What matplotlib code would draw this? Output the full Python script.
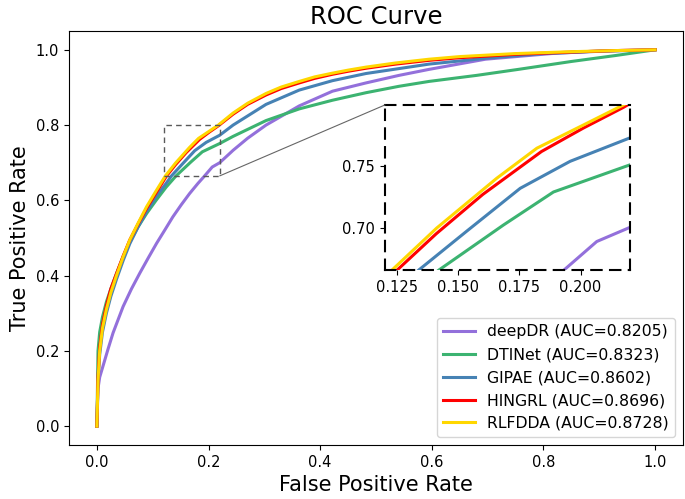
import matplotlib
matplotlib.use("Agg")
import matplotlib.pyplot as plt
from matplotlib.patches import Rectangle, ConnectionPatch

# ---- data ----
labels = ["deepDR (AUC=0.8205)", "DTINet (AUC=0.8323)", "GIPAE (AUC=0.8602)",
          "HINGRL (AUC=0.8696)", "RLFDDA (AUC=0.8728)"]
colors = ["mediumpurple", "mediumseagreen", "steelblue", "red", "gold"]

fpr_deepdr = [0, 0.001, 0.002, 0.005, 0.011, 0.02, 0.029, 0.047, 0.062, 0.077, 0.092, 0.107,
              0.122, 0.136, 0.151, 0.166, 0.181, 0.193, 0.2066, 0.22, 0.244, 0.27, 0.303,
              0.3625, 0.422, 0.482, 0.541, 0.595, 0.696, 0.814, 0.9, 1.0]
tpr_deepdr = [0, 0.05, 0.10, 0.13, 0.16, 0.205, 0.248, 0.318, 0.365, 0.407, 0.447, 0.486,
              0.522, 0.556, 0.588, 0.618, 0.645, 0.665, 0.6886, 0.70, 0.733, 0.765, 0.80,
              0.851, 0.89, 0.912, 0.932, 0.948, 0.975, 0.99, 0.997, 1.0]

fpr_dtinet = [0, 0.001, 0.002, 0.005, 0.010, 0.017, 0.025, 0.035, 0.047, 0.059, 0.074, 0.089,
              0.106, 0.124, 0.1418, 0.1684, 0.1889, 0.22, 0.244, 0.303, 0.3625, 0.422, 0.482,
              0.541, 0.595, 0.68, 0.755, 0.85, 0.93, 1.0]
tpr_dtinet = [0, 0.10, 0.20, 0.25, 0.29, 0.33, 0.365, 0.405, 0.45, 0.49, 0.53, 0.565,
              0.60, 0.635, 0.665, 0.702, 0.729, 0.751, 0.77, 0.812, 0.843, 0.866, 0.886,
              0.903, 0.916, 0.932, 0.948, 0.969, 0.985, 1.0]

fpr_gipae = [0, 0.002, 0.005, 0.010, 0.017, 0.025, 0.035, 0.047, 0.059, 0.074, 0.089, 0.106,
             0.124, 0.1336, 0.1534, 0.1753, 0.1957, 0.22, 0.244, 0.303, 0.3625, 0.422, 0.482,
             0.595, 0.70, 0.80, 0.90, 1.0]
tpr_gipae = [0, 0.12, 0.19, 0.25, 0.30, 0.345, 0.39, 0.44, 0.485, 0.53, 0.57, 0.61,
             0.645, 0.665, 0.697, 0.732, 0.754, 0.773, 0.80, 0.855, 0.893, 0.918, 0.937,
             0.962, 0.978, 0.99, 0.996, 1.0]

fpr_hingrl = [0, 0.002, 0.005, 0.010, 0.017, 0.025, 0.035, 0.047, 0.059, 0.074, 0.089, 0.106,
              0.1248, 0.141, 0.160, 0.184, 0.201, 0.2175, 0.244, 0.27, 0.303, 0.33, 0.3625,
              0.39, 0.422, 0.45, 0.482, 0.535, 0.595, 0.65, 0.75, 0.85, 0.93, 1.0]
tpr_hingrl = [0, 0.13, 0.21, 0.27, 0.32, 0.365, 0.405, 0.452, 0.495, 0.538, 0.579, 0.62,
              0.665, 0.695, 0.727, 0.762, 0.781, 0.798, 0.829, 0.855, 0.880, 0.897, 0.912,
              0.924, 0.935, 0.943, 0.951, 0.962, 0.972, 0.979, 0.988, 0.994, 0.998, 1.0]

fpr_rlfdda = [0, 0.002, 0.005, 0.010, 0.017, 0.025, 0.035, 0.047, 0.059, 0.074, 0.089, 0.106,
              0.1227, 0.1411, 0.1657, 0.1821, 0.2012, 0.2175, 0.244, 0.27, 0.303, 0.33, 0.3625,
              0.39, 0.422, 0.45, 0.482, 0.535, 0.595, 0.65, 0.75, 0.85, 0.93, 1.0]
tpr_rlfdda = [0, 0.12, 0.20, 0.26, 0.31, 0.355, 0.40, 0.45, 0.495, 0.54, 0.583, 0.625,
              0.665, 0.6995, 0.7402, 0.7647, 0.7837, 0.80, 0.832, 0.858, 0.884, 0.901, 0.916,
              0.928, 0.938, 0.946, 0.954, 0.965, 0.975, 0.982, 0.99, 0.995, 0.998, 1.0]

series = [(fpr_deepdr, tpr_deepdr), (fpr_dtinet, tpr_dtinet), (fpr_gipae, tpr_gipae),
          (fpr_hingrl, tpr_hingrl), (fpr_rlfdda, tpr_rlfdda)]

main_ticks = [0.0, 0.2, 0.4, 0.6, 0.8, 1.0]
zoom_xlim = (0.12, 0.22)
zoom_ylim = (0.665, 0.80)
zoom_xticks = [0.125, 0.150, 0.175, 0.200]
zoom_yticks = [0.70, 0.75]

# ---- figure ----
fig = plt.figure(figsize=(6.85, 4.99), dpi=100)
ax = fig.add_axes([0.1007, 0.1082, 0.8964, 0.8297])

for (x, y), c, lab in zip(series, colors, labels):
    ax.plot(x, y, color=c, lw=2.2, label=lab)

ax.set_xticks(main_ticks)
ax.set_yticks(main_ticks)
ax.tick_params(labelsize=10.5)
ax.set_xlabel("False Positive Rate", fontsize=15)
ax.set_ylabel("True Positive Rate", fontsize=15)
ax.set_title("ROC Curve", fontsize=17.5, pad=5)
ax.legend(loc="lower right", fontsize=11.3)

# zoom rectangle on main axes
rect = Rectangle((zoom_xlim[0], zoom_ylim[0]), zoom_xlim[1] - zoom_xlim[0],
                 zoom_ylim[1] - zoom_ylim[0], fill=False, ec="0.35", lw=1,
                 ls=(0, (4, 3)), zorder=5)
ax.add_patch(rect)

# inset
axins = fig.add_axes([0.562, 0.458, 0.357, 0.3317])
for (x, y), c in zip(series, colors):
    axins.plot(x, y, color=c, lw=2.2)
axins.set_xlim(*zoom_xlim)
axins.set_ylim(*zoom_ylim)
axins.set_xticks(zoom_xticks)
axins.set_yticks(zoom_yticks)
axins.set_xticklabels(["%.3f" % v for v in zoom_xticks])
axins.set_yticklabels(["%.2f" % v for v in zoom_yticks])
axins.tick_params(labelsize=10.5)
for s in axins.spines.values():
    s.set_linestyle((0, (5, 4)))
    s.set_linewidth(1.5)
    s.set_edgecolor("black")

con = ConnectionPatch(xyA=(zoom_xlim[1], zoom_ylim[0]), coordsA=ax.transData,
                      xyB=(0, 1), coordsB=axins.transAxes, color="0.4", lw=0.8)
fig.add_artist(con)

fig.savefig("out.png", dpi=100)
